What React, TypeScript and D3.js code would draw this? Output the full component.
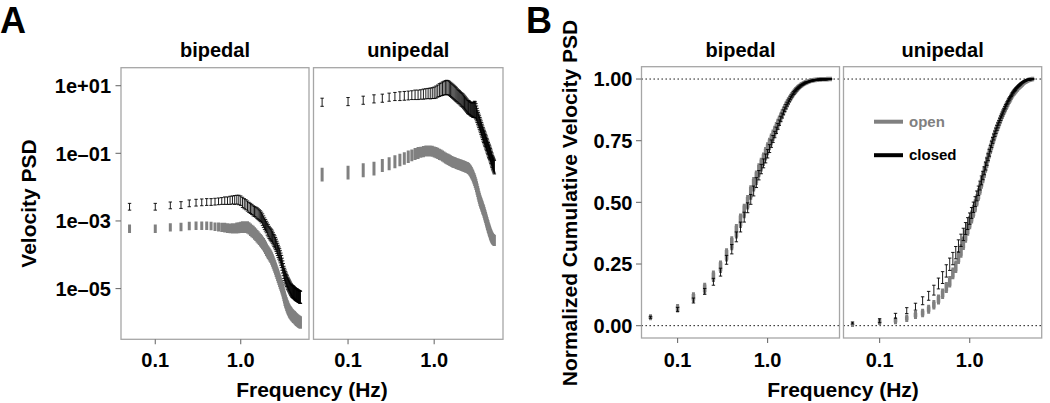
import React from 'react';
import * as d3 from 'd3';

// ---------------- DATA ----------------
const frequencies = [0.05,0.1,0.15,0.2,0.25,0.3,0.35,0.4,0.45,0.5,0.55,0.6,0.65,0.7,0.75,0.8,0.85,0.9,0.95,1,1.05,1.1,1.15,1.2,1.25,1.3,1.35,1.4,1.45,1.5,1.55,1.6,1.65,1.7,1.75,1.8,1.85,1.9,1.95,2,2.05,2.1,2.15,2.2,2.25,2.3,2.35,2.4,2.45,2.5,2.55,2.6,2.65,2.7,2.75,2.8,2.85,2.9,2.95,3,3.05,3.1,3.15,3.2,3.25,3.3,3.35,3.4,3.45,3.5,3.55,3.6,3.65,3.7,3.75,3.8,3.85,3.9,3.95,4,4.05,4.1,4.15,4.2,4.25,4.3,4.35,4.4,4.45,4.5,4.55,4.6,4.65,4.7,4.75,4.8,4.85,4.9,4.95,5];

const stances = ['bipedal', 'unipedal'];
const conditions = ['open', 'closed'];

const psdTicks = [1e1, 1e-1, 1e-3, 1e-5];
const psdTickLabels = ['1e+01', '1e\u201301', '1e\u201303', '1e\u201305'];
const freqTicks = [0.1, 1.0];
const freqTickLabels = ['0.1', '1.0'];
const cumTicks = [0, 0.25, 0.5, 0.75, 1];
const cumTickLabels = ['0.00', '0.25', '0.50', '0.75', '1.00'];
const refLines = [0, 1];

// Panel A: log10 of velocity PSD (mean) and half-width of the error bar (log10 units)
const logPsdBipedalClosed = [-2.58,-2.58,-2.54,-2.53,-2.48,-2.46,-2.45,-2.44,-2.44,-2.43,-2.42,-2.41,-2.40,-2.40,-2.39,-2.38,-2.38,-2.37,-2.38,-2.40,-2.45,-2.49,-2.52,-2.56,-2.60,-2.63,-2.66,-2.70,-2.72,-2.74,-2.77,-2.80,-2.83,-2.86,-2.90,-2.96,-3.02,-3.08,-3.13,-3.18,-3.24,-3.29,-3.34,-3.38,-3.41,-3.44,-3.48,-3.53,-3.58,-3.62,-3.67,-3.72,-3.78,-3.84,-3.90,-3.95,-4.00,-4.06,-4.13,-4.20,-4.28,-4.36,-4.44,-4.52,-4.58,-4.63,-4.68,-4.72,-4.76,-4.80,-4.84,-4.87,-4.90,-4.93,-4.96,-4.99,-5.02,-5.04,-5.06,-5.08,-5.09,-5.10,-5.11,-5.12,-5.14,-5.15,-5.16,-5.17,-5.18,-5.19,-5.19,-5.20,-5.21,-5.22,-5.23,-5.23,-5.24,-5.25,-5.25,-5.26];
const logPsdBipedalClosedErr = [0.10,0.10,0.10,0.10,0.10,0.10,0.10,0.10,0.10,0.10,0.10,0.10,0.11,0.11,0.12,0.12,0.13,0.13,0.14,0.14,0.15,0.15,0.15,0.15,0.15,0.15,0.15,0.15,0.15,0.15,0.16,0.16,0.16,0.16,0.16,0.17,0.17,0.17,0.17,0.17,0.18,0.18,0.18,0.18,0.18,0.18,0.18,0.18,0.18,0.18,0.18,0.18,0.18,0.18,0.18,0.18,0.18,0.18,0.18,0.18,0.18,0.18,0.18,0.18,0.18,0.18,0.18,0.18,0.18,0.18,0.18,0.18,0.18,0.18,0.18,0.18,0.18,0.18,0.18,0.18,0.18,0.18,0.18,0.18,0.18,0.18,0.18,0.18,0.18,0.18,0.18,0.18,0.18,0.18,0.18,0.18,0.18,0.18,0.18,0.18];
const logPsdBipedalOpen = [-3.23,-3.23,-3.19,-3.18,-3.15,-3.14,-3.14,-3.14,-3.15,-3.17,-3.18,-3.19,-3.20,-3.21,-3.22,-3.22,-3.22,-3.21,-3.20,-3.19,-3.18,-3.18,-3.18,-3.19,-3.22,-3.26,-3.30,-3.33,-3.37,-3.41,-3.45,-3.49,-3.53,-3.57,-3.61,-3.65,-3.69,-3.74,-3.79,-3.85,-3.90,-3.94,-3.98,-4.02,-4.06,-4.11,-4.17,-4.23,-4.29,-4.35,-4.41,-4.47,-4.53,-4.59,-4.65,-4.71,-4.77,-4.83,-4.88,-4.93,-4.99,-5.05,-5.12,-5.19,-5.26,-5.33,-5.38,-5.43,-5.48,-5.52,-5.56,-5.60,-5.63,-5.66,-5.69,-5.71,-5.73,-5.75,-5.77,-5.79,-5.80,-5.82,-5.83,-5.84,-5.85,-5.87,-5.88,-5.90,-5.91,-5.92,-5.93,-5.94,-5.95,-5.96,-5.97,-5.98,-5.98,-5.99,-6.00,-6.00];
const logPsdBipedalOpenErr = [0.08,0.08,0.08,0.08,0.08,0.08,0.08,0.08,0.08,0.08,0.09,0.09,0.10,0.10,0.10,0.11,0.11,0.12,0.12,0.12,0.13,0.13,0.13,0.14,0.14,0.14,0.14,0.14,0.14,0.14,0.14,0.14,0.14,0.14,0.14,0.14,0.14,0.14,0.14,0.14,0.14,0.14,0.14,0.14,0.14,0.14,0.14,0.14,0.14,0.14,0.14,0.14,0.14,0.14,0.14,0.14,0.14,0.14,0.14,0.14,0.14,0.14,0.14,0.14,0.14,0.14,0.14,0.14,0.14,0.14,0.14,0.14,0.14,0.14,0.14,0.14,0.14,0.14,0.14,0.14,0.14,0.14,0.14,0.14,0.14,0.14,0.14,0.14,0.14,0.14,0.14,0.14,0.14,0.14,0.14,0.14,0.14,0.14,0.14,0.14];
const logPsdUnipedalClosed = [0.51,0.53,0.57,0.61,0.63,0.66,0.68,0.69,0.70,0.71,0.72,0.73,0.73,0.74,0.75,0.76,0.77,0.77,0.78,0.79,0.81,0.84,0.87,0.89,0.91,0.93,0.94,0.95,0.94,0.92,0.89,0.86,0.83,0.80,0.77,0.74,0.71,0.68,0.66,0.63,0.60,0.58,0.56,0.53,0.50,0.47,0.44,0.41,0.38,0.36,0.35,0.33,0.31,0.30,0.29,0.28,0.28,0.29,0.30,0.28,0.24,0.18,0.12,0.06,0.01,-0.04,-0.09,-0.14,-0.19,-0.24,-0.29,-0.34,-0.39,-0.44,-0.48,-0.52,-0.56,-0.60,-0.64,-0.68,-0.72,-0.76,-0.80,-0.84,-0.88,-0.92,-0.95,-0.98,-1.02,-1.06,-1.10,-1.14,-1.18,-1.22,-1.26,-1.29,-1.32,-1.35,-1.38,-1.41];
const logPsdUnipedalClosedErr = [0.12,0.12,0.12,0.12,0.12,0.12,0.12,0.13,0.13,0.13,0.13,0.14,0.14,0.14,0.15,0.15,0.15,0.16,0.16,0.17,0.18,0.18,0.19,0.19,0.20,0.20,0.21,0.21,0.21,0.21,0.21,0.21,0.21,0.21,0.21,0.21,0.20,0.20,0.20,0.20,0.20,0.20,0.20,0.20,0.20,0.20,0.20,0.20,0.20,0.20,0.20,0.20,0.20,0.20,0.20,0.21,0.22,0.23,0.24,0.24,0.23,0.22,0.21,0.20,0.20,0.20,0.20,0.20,0.20,0.20,0.20,0.20,0.20,0.20,0.20,0.20,0.20,0.20,0.20,0.20,0.20,0.20,0.20,0.20,0.20,0.20,0.20,0.20,0.20,0.20,0.20,0.20,0.20,0.20,0.20,0.20,0.20,0.20,0.20,0.20];
const logPsdUnipedalOpen = [-1.63,-1.57,-1.50,-1.45,-1.36,-1.31,-1.25,-1.20,-1.15,-1.10,-1.06,-1.02,-0.99,-0.97,-0.95,-0.93,-0.93,-0.93,-0.94,-0.96,-0.98,-1.00,-1.03,-1.05,-1.08,-1.11,-1.14,-1.16,-1.18,-1.20,-1.22,-1.24,-1.26,-1.27,-1.28,-1.30,-1.31,-1.32,-1.33,-1.34,-1.35,-1.36,-1.37,-1.38,-1.39,-1.40,-1.41,-1.42,-1.43,-1.45,-1.47,-1.50,-1.53,-1.57,-1.61,-1.65,-1.70,-1.75,-1.80,-1.86,-1.92,-1.99,-2.06,-2.13,-2.20,-2.27,-2.33,-2.39,-2.44,-2.48,-2.53,-2.57,-2.62,-2.66,-2.70,-2.75,-2.80,-2.85,-2.90,-2.95,-3.00,-3.05,-3.10,-3.14,-3.19,-3.23,-3.27,-3.31,-3.35,-3.39,-3.42,-3.45,-3.48,-3.50,-3.52,-3.54,-3.55,-3.56,-3.57,-3.58];
const logPsdUnipedalOpenErr = [0.16,0.16,0.16,0.16,0.15,0.15,0.15,0.14,0.14,0.14,0.13,0.13,0.13,0.12,0.12,0.12,0.12,0.12,0.12,0.12,0.12,0.12,0.12,0.12,0.12,0.12,0.12,0.12,0.12,0.12,0.12,0.12,0.12,0.12,0.12,0.12,0.12,0.12,0.12,0.12,0.12,0.12,0.12,0.12,0.12,0.12,0.12,0.12,0.12,0.12,0.12,0.12,0.12,0.12,0.12,0.12,0.12,0.12,0.12,0.12,0.12,0.12,0.12,0.12,0.12,0.12,0.12,0.12,0.12,0.12,0.12,0.12,0.12,0.12,0.12,0.12,0.12,0.12,0.12,0.12,0.12,0.12,0.12,0.12,0.12,0.12,0.12,0.12,0.12,0.12,0.12,0.12,0.12,0.12,0.12,0.12,0.12,0.12,0.12,0.12];

// Panel B: normalized cumulative velocity PSD (mean) and error-bar half-width
const cumBipedalOpen = [0.034,0.071,0.115,0.152,0.200,0.239,0.287,0.334,0.383,0.425,0.465,0.500,0.540,0.573,0.600,0.630,0.653,0.675,0.697,0.717,0.737,0.755,0.772,0.788,0.803,0.818,0.832,0.845,0.858,0.870,0.881,0.892,0.901,0.910,0.918,0.925,0.932,0.938,0.944,0.949,0.954,0.958,0.962,0.966,0.969,0.972,0.975,0.977,0.979,0.981,0.983,0.984,0.986,0.987,0.988,0.989,0.990,0.991,0.992,0.993,0.993,0.994,0.994,0.995,0.995,0.996,0.996,0.996,0.997,0.997,0.997,0.997,0.998,0.998,0.998,0.998,0.998,0.999,0.999,0.999,0.999,0.999,0.999,0.999,0.999,0.999,0.999,0.999,0.999,0.999,0.999,0.999,1.000,1.000,1.000,1.000,1.000,1.000,1.000,1.000];
const cumBipedalOpenErr = [0.005,0.010,0.013,0.015,0.016,0.018,0.020,0.021,0.022,0.022,0.022,0.022,0.022,0.022,0.022,0.021,0.021,0.020,0.020,0.019,0.018,0.017,0.016,0.015,0.015,0.014,0.013,0.012,0.012,0.011,0.010,0.010,0.009,0.009,0.008,0.008,0.007,0.007,0.006,0.006,0.006,0.005,0.005,0.005,0.004,0.004,0.004,0.004,0.003,0.003,0.003,0.003,0.003,0.003,0.003,0.002,0.002,0.002,0.002,0.002,0.002,0.002,0.002,0.002,0.002,0.002,0.002,0.002,0.002,0.002,0.002,0.002,0.002,0.002,0.002,0.002,0.002,0.002,0.002,0.002,0.002,0.002,0.002,0.002,0.002,0.002,0.002,0.002,0.002,0.002,0.002,0.002,0.002,0.002,0.002,0.002,0.002,0.002,0.002,0.002];
const cumBipedalClosed = [0.034,0.066,0.102,0.139,0.178,0.217,0.267,0.310,0.360,0.400,0.440,0.478,0.512,0.546,0.580,0.610,0.635,0.658,0.678,0.697,0.718,0.738,0.757,0.775,0.792,0.808,0.823,0.838,0.852,0.865,0.877,0.888,0.898,0.907,0.915,0.923,0.930,0.937,0.943,0.948,0.953,0.957,0.961,0.965,0.968,0.971,0.974,0.976,0.978,0.980,0.982,0.984,0.985,0.986,0.987,0.988,0.989,0.990,0.991,0.992,0.993,0.993,0.994,0.994,0.995,0.995,0.996,0.996,0.996,0.997,0.997,0.997,0.997,0.998,0.998,0.998,0.998,0.998,0.999,0.999,0.999,0.999,0.999,0.999,0.999,0.999,0.999,0.999,0.999,0.999,0.999,1.000,1.000,1.000,1.000,1.000,1.000,1.000,1.000,1.000];
const cumBipedalClosedErr = [0.004,0.008,0.010,0.012,0.014,0.016,0.018,0.019,0.020,0.020,0.020,0.020,0.020,0.020,0.020,0.019,0.019,0.018,0.018,0.017,0.016,0.015,0.014,0.013,0.013,0.012,0.011,0.011,0.010,0.010,0.009,0.009,0.008,0.008,0.007,0.007,0.006,0.006,0.006,0.005,0.005,0.005,0.004,0.004,0.004,0.004,0.003,0.003,0.003,0.003,0.003,0.003,0.003,0.002,0.002,0.002,0.002,0.002,0.002,0.002,0.002,0.002,0.002,0.002,0.002,0.002,0.002,0.002,0.002,0.002,0.002,0.002,0.002,0.002,0.002,0.002,0.002,0.002,0.002,0.002,0.002,0.002,0.002,0.002,0.002,0.002,0.002,0.002,0.002,0.002,0.002,0.002,0.002,0.002,0.002,0.002,0.002,0.002,0.002,0.002];
const cumUnipedalOpen = [0.005,0.016,0.020,0.030,0.043,0.051,0.067,0.085,0.106,0.129,0.155,0.178,0.212,0.239,0.276,0.303,0.334,0.364,0.392,0.418,0.441,0.464,0.486,0.508,0.532,0.556,0.579,0.602,0.623,0.643,0.663,0.683,0.700,0.717,0.733,0.748,0.762,0.775,0.787,0.798,0.808,0.818,0.828,0.837,0.846,0.854,0.862,0.869,0.876,0.883,0.889,0.895,0.901,0.907,0.912,0.917,0.922,0.927,0.932,0.937,0.941,0.944,0.947,0.950,0.953,0.956,0.959,0.961,0.964,0.966,0.968,0.970,0.972,0.974,0.976,0.978,0.980,0.982,0.984,0.985,0.987,0.988,0.989,0.990,0.991,0.992,0.993,0.994,0.995,0.996,0.996,0.997,0.997,0.998,0.998,0.999,0.999,0.999,1.000,1.000];
const cumUnipedalOpenErr = [0.003,0.006,0.007,0.008,0.009,0.010,0.011,0.012,0.013,0.014,0.015,0.016,0.017,0.018,0.019,0.020,0.020,0.020,0.020,0.020,0.019,0.019,0.019,0.018,0.018,0.018,0.017,0.017,0.017,0.016,0.016,0.015,0.015,0.014,0.014,0.013,0.013,0.012,0.012,0.011,0.011,0.010,0.010,0.010,0.009,0.009,0.009,0.008,0.008,0.008,0.007,0.007,0.007,0.006,0.006,0.006,0.006,0.005,0.005,0.005,0.005,0.005,0.004,0.004,0.004,0.004,0.004,0.004,0.003,0.003,0.003,0.003,0.003,0.003,0.003,0.003,0.003,0.003,0.002,0.002,0.002,0.002,0.002,0.002,0.002,0.002,0.002,0.002,0.002,0.002,0.002,0.002,0.002,0.002,0.002,0.002,0.002,0.002,0.002,0.002];
const cumUnipedalClosed = [0.011,0.020,0.040,0.061,0.077,0.101,0.121,0.144,0.171,0.195,0.222,0.249,0.272,0.296,0.323,0.346,0.370,0.394,0.414,0.434,0.457,0.480,0.503,0.526,0.547,0.568,0.589,0.609,0.628,0.647,0.665,0.683,0.701,0.718,0.735,0.751,0.765,0.778,0.790,0.802,0.812,0.822,0.832,0.841,0.850,0.858,0.866,0.874,0.882,0.889,0.896,0.902,0.908,0.914,0.919,0.924,0.929,0.934,0.939,0.943,0.947,0.951,0.954,0.957,0.960,0.963,0.966,0.968,0.971,0.973,0.975,0.977,0.979,0.981,0.983,0.985,0.986,0.987,0.989,0.990,0.991,0.992,0.993,0.994,0.995,0.996,0.996,0.997,0.997,0.998,0.998,0.998,0.999,0.999,0.999,0.999,1.000,1.000,1.000,1.000];
const cumUnipedalClosedErr = [0.004,0.008,0.010,0.012,0.014,0.016,0.018,0.020,0.022,0.024,0.025,0.025,0.025,0.025,0.025,0.025,0.025,0.024,0.024,0.023,0.022,0.021,0.020,0.020,0.019,0.018,0.018,0.017,0.016,0.016,0.015,0.014,0.014,0.013,0.013,0.012,0.012,0.011,0.011,0.010,0.010,0.009,0.009,0.009,0.008,0.008,0.008,0.007,0.007,0.007,0.006,0.006,0.006,0.006,0.005,0.005,0.005,0.005,0.005,0.004,0.004,0.004,0.004,0.004,0.004,0.003,0.003,0.003,0.003,0.003,0.003,0.003,0.003,0.003,0.002,0.002,0.002,0.002,0.002,0.002,0.002,0.002,0.002,0.002,0.002,0.002,0.002,0.002,0.002,0.002,0.002,0.002,0.002,0.002,0.002,0.002,0.002,0.002,0.002,0.002];

// ---------------- STYLE / LAYOUT ----------------
const FONT = "'Liberation Sans', Arial, Helvetica, sans-serif";
const GREY = '#808080';
const FRAME = '#a6a6a6';
const TICK = '#6e6e6e';
const colorOf: Record<string, string> = { open: GREY, closed: '#000000' };

type S = { cond: string; mean: number[]; err: number[] };

const seriesA: Record<string, S[]> = {
  bipedal: [
    { cond: 'open', mean: logPsdBipedalOpen, err: logPsdBipedalOpenErr },
    { cond: 'closed', mean: logPsdBipedalClosed, err: logPsdBipedalClosedErr },
  ],
  unipedal: [
    { cond: 'open', mean: logPsdUnipedalOpen, err: logPsdUnipedalOpenErr },
    { cond: 'closed', mean: logPsdUnipedalClosed, err: logPsdUnipedalClosedErr },
  ],
};
const seriesB: Record<string, S[]> = {
  bipedal: [
    { cond: 'open', mean: cumBipedalOpen, err: cumBipedalOpenErr },
    { cond: 'closed', mean: cumBipedalClosed, err: cumBipedalClosedErr },
  ],
  unipedal: [
    { cond: 'open', mean: cumUnipedalOpen, err: cumUnipedalOpenErr },
    { cond: 'closed', mean: cumUnipedalClosed, err: cumUnipedalClosedErr },
  ],
};

// x domain: log range of frequencies expanded by 5% each side
const lf = d3.extent(frequencies).map((v) => Math.log10(v as number)) as [number, number];
const lpad = (lf[1] - lf[0]) * 0.05;
const xDomain: [number, number] = [Math.pow(10, lf[0] - lpad), Math.pow(10, lf[1] + lpad)];

const A = { top: 67.7, bottom: 339.3, facets: [[121, 309], [313.5, 503]] };
const B = { top: 66.7, bottom: 338, facets: [[641.5, 839.5], [843.5, 1041.7]] };

const yA = d3.scaleLog().domain([Math.pow(10, -6.5), Math.pow(10, 1.532)]).range([A.bottom, A.top]);
const yB = d3.scaleLinear().domain([-0.05, 1.05]).range([B.bottom, B.top]);

function barsPath(
  x: d3.ScaleLogarithmic<number, number>,
  y: (v: number) => number,
  s: S,
  log: boolean,
  cap: number
) {
  let d = '';
  frequencies.forEach((f, i) => {
    const m = s.mean[i];
    const e = s.err[i];
    const lo = log ? Math.pow(10, m - e) : m - e;
    const hi = log ? Math.pow(10, m + e) : m + e;
    const px = x(f);
    const y0 = y(lo);
    const y1 = y(hi);
    d += `M${px},${y0}V${y1}`;
    if (cap > 0) d += `M${px - cap},${y0}H${px + cap}M${px - cap},${y1}H${px + cap}`;
  });
  return d;
}

function Facet(props: {
  x0: number; x1: number; top: number; bottom: number; stance: string;
  series: S[]; log: boolean; y: any; yTicks: number[]; yLabels: string[];
  showY: boolean; yLabelEnd: number; refs: number[]; legend: boolean; openWidth: number;
}) {
  const { x0, x1, top, bottom, stance, series, log, y, yTicks, yLabels, showY, yLabelEnd, refs, legend, openWidth } = props;
  const x = d3.scaleLog().domain(xDomain).range([x0, x1]);
  const clipId = `clip-${Math.round(x0)}`;
  return (
    <g>
      <defs>
        <clipPath id={clipId}>
          <rect x={x0} y={top} width={x1 - x0} height={bottom - top} />
        </clipPath>
      </defs>
      <text x={(x0 + x1) / 2} y={57} textAnchor="middle" fontSize={20} fontWeight="bold" fontFamily={FONT}>
        {stance}
      </text>
      <g clipPath={`url(#${clipId})`}>
        {refs.map((r) => (
          <line key={r} x1={x0} x2={x1} y1={y(r)} y2={y(r)} stroke="#000" strokeWidth={1} strokeDasharray="1.4,2.6" />
        ))}
        {series.map((s) => (
          <path
            key={s.cond}
            d={barsPath(x, y, s, log, s.cond === 'open' ? 1.5 : 1.7)}
            fill="none"
            stroke={colorOf[s.cond]}
            strokeWidth={s.cond === 'open' ? openWidth : 0.9}
          />
        ))}
      </g>
      <rect x={x0} y={top} width={x1 - x0} height={bottom - top} fill="none" stroke={FRAME} strokeWidth={1.3} />
      {freqTicks.map((t, i) => (
        <g key={t}>
          <line x1={x(t)} x2={x(t)} y1={bottom} y2={bottom + 5} stroke={TICK} strokeWidth={1.1} />
          <text x={x(t)} y={367} textAnchor="middle" fontSize={20} fontWeight="bold" fontFamily={FONT}>
            {freqTickLabels[i]}
          </text>
        </g>
      ))}
      {showY &&
        yTicks.map((t, i) => (
          <g key={t}>
            <line x1={x0 - 5.5} x2={x0} y1={y(t)} y2={y(t)} stroke={TICK} strokeWidth={1.1} />
            <text x={yLabelEnd} y={y(t)} dy="0.36em" textAnchor="end" fontSize={20} fontWeight="bold" fontFamily={FONT}>
              {yLabels[i]}
            </text>
          </g>
        ))}
      {legend && (
        <g fontFamily={FONT} fontWeight="bold" fontSize={15}>
          {conditions.map((c, i) => {
            const ly = 121.7 + i * 33.5;
            return (
              <g key={c}>
                <line x1={874} x2={903} y1={ly} y2={ly} stroke={colorOf[c]} strokeWidth={4} />
                <text x={909} y={ly} dy="0.35em" fill={colorOf[c]}>{c}</text>
              </g>
            );
          })}
        </g>
      )}
    </g>
  );
}

export default function App() {
  return (
    <svg
      width={1050}
      height={403}
      viewBox="0 0 1050 403"
      style={{ position: 'absolute', left: 0, top: 0, background: '#fff' }}
    >
      <rect x={0} y={0} width={1050} height={403} fill="#fff" />
      {/* Panel letters */}
      <text x={0} y={33} fontSize={36} fontWeight="bold" fontFamily={FONT}>A</text>
      <text x={526} y={33} fontSize={36} fontWeight="bold" fontFamily={FONT}>B</text>

      {stances.map((st, i) => (
        <Facet
          key={'A' + st}
          x0={A.facets[i][0]} x1={A.facets[i][1]} top={A.top} bottom={A.bottom}
          stance={st} series={seriesA[st]} log={true} y={yA}
          yTicks={psdTicks} yLabels={psdTickLabels} showY={i === 0} yLabelEnd={111}
          refs={[]} legend={false} openWidth={3}
        />
      ))}
      {stances.map((st, i) => (
        <Facet
          key={'B' + st}
          x0={B.facets[i][0]} x1={B.facets[i][1]} top={B.top} bottom={B.bottom}
          stance={st} series={seriesB[st]} log={false} y={yB}
          yTicks={cumTicks} yLabels={cumTickLabels} showY={i === 0} yLabelEnd={632.5}
          refs={refLines} legend={i === 1} openWidth={3.6}
        />
      ))}

      {/* Axis titles */}
      <text x={312} y={397} textAnchor="middle" fontSize={21} fontWeight="bold" fontFamily={FONT}>Frequency (Hz)</text>
      <text x={843} y={397} textAnchor="middle" fontSize={21} fontWeight="bold" fontFamily={FONT}>Frequency (Hz)</text>
      <text transform="translate(36,203.5) rotate(-90)" textAnchor="middle" fontSize={21} fontWeight="bold" fontFamily={FONT}>
        Velocity PSD
      </text>
      <text transform="translate(577,203) rotate(-90)" textAnchor="middle" fontSize={21} fontWeight="bold" fontFamily={FONT}>
        Normalized Cumulative Velocity PSD
      </text>
    </svg>
  );
}
